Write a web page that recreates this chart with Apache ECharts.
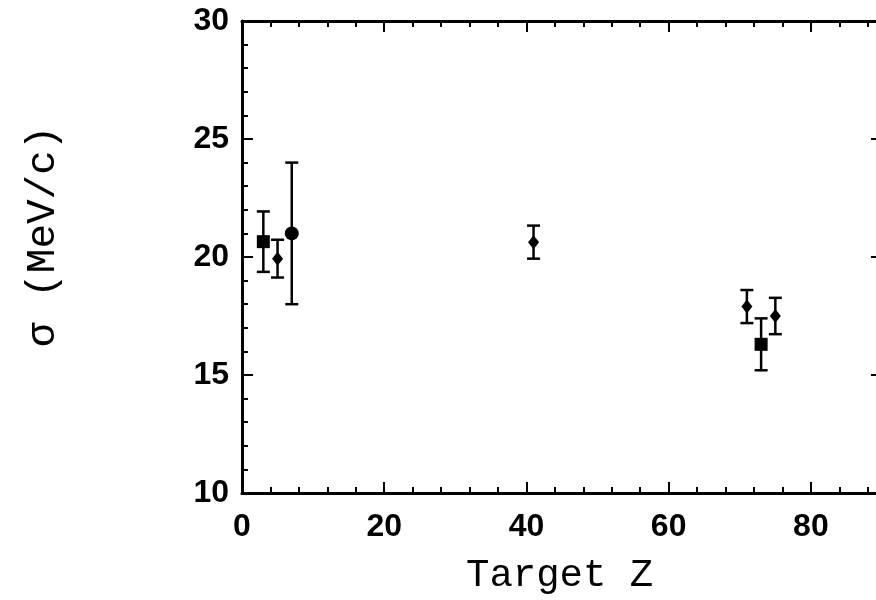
<!DOCTYPE html>
<html>
<head>
<meta charset="utf-8">
<script src="https://cdn.jsdelivr.net/npm/echarts@6/dist/echarts.min.js"></script>
<style>
  html, body { margin: 0; padding: 0; background: #fff; }
  #chart { width: 876px; height: 600px; }
</style>
</head>
<body>
<div id="chart"></div>
<script>
// 数据：sigma vs target Z，三种符号
const squareZ = [3, 73];
const squareSigma = [20.65, 16.3];
const squareErr = [1.28, 1.1];

const diamondZ = [5, 41, 71, 75];
const diamondSigma = [19.93, 20.63, 17.9, 17.5];
const diamondErr = [0.8, 0.7, 0.7, 0.77];

const circleZ = [7];
const circleSigma = [21.0];
const circleErr = [3.0];

const xTicks = [0, 20, 40, 60, 80];
const yTicks = [10, 15, 20, 25, 30];

// 拼成 [z, sigma]
function pts(z, s) {
  return z.map((v, i) => [v, s[i]]);
}
// 误差棒 [z, low, high]
function bars(z, s, e) {
  return z.map((v, i) => [v, s[i] - e[i], s[i] + e[i]]);
}

const allBars = []
  .concat(bars(squareZ, squareSigma, squareErr))
  .concat(bars(diamondZ, diamondSigma, diamondErr))
  .concat(bars(circleZ, circleSigma, circleErr));

const myChart = echarts.init(document.getElementById("chart"));

const tickFont = {
  color: "#000",
  fontFamily: "Liberation Sans",
  fontWeight: "bold",
  fontSize: 32,
};

const axisBase = {
  type: "value",
  axisLine: { show: true, onZero: false, lineStyle: { color: "#000", width: 3 } },
  axisTick: { inside: true, length: 11, lineStyle: { color: "#000", width: 2 } },
  minorTick: { show: true, splitNumber: 5, length: 6, lineStyle: { color: "#000", width: 2 } },
  splitLine: { show: false },
};

const markStyle = { color: "#000", opacity: 1 };

myChart.setOption({
  animation: false,
  // 右边框在画面外（原图被裁掉）
  grid: { left: 242, top: 21, width: 640, height: 472, containLabel: false, outerBoundsMode: "none" },
  xAxis: [
    Object.assign({}, axisBase, {
      min: 0, max: 90, interval: 20, position: "bottom",
      axisLabel: Object.assign({ margin: 18, formatter: (v) => (xTicks.includes(v) ? v : "") }, tickFont),
    }),
    Object.assign({}, axisBase, {
      min: 0, max: 90, interval: 20, position: "top",
      axisLabel: { show: false },
    }),
  ],
  yAxis: [
    Object.assign({}, axisBase, {
      min: 10, max: 30, interval: 5, position: "left",
      axisLabel: Object.assign({ margin: 13, formatter: (v) => (yTicks.includes(v) ? v : "") }, tickFont),
    }),
    Object.assign({}, axisBase, {
      min: 10, max: 30, interval: 5, position: "right",
      axisLabel: { show: false },
    }),
  ],
  graphic: [
    {
      type: "text",
      left: 466, top: 556,
      style: { text: "Target Z", font: "39px 'Liberation Mono'", fill: "#000" },
    },
    {
      type: "text",
      x: 23, y: 347, rotation: Math.PI / 2,
      style: { text: "σ (MeV/c)", font: "41px 'Liberation Mono'", fill: "#000" },
    },
  ],
  series: [
    {
      type: "custom",
      data: allBars,
      renderItem: function (params, api) {
        const lo = api.coord([api.value(0), api.value(1)]);
        const hi = api.coord([api.value(0), api.value(2)]);
        const w = 6.5;
        const st = { stroke: "#000", lineWidth: 2.5 };
        return {
          type: "group",
          children: [
            { type: "line", shape: { x1: lo[0], y1: lo[1], x2: hi[0], y2: hi[1] }, style: st },
            { type: "line", shape: { x1: lo[0] - w, y1: lo[1], x2: lo[0] + w, y2: lo[1] }, style: st },
            { type: "line", shape: { x1: hi[0] - w, y1: hi[1], x2: hi[0] + w, y2: hi[1] }, style: st },
          ],
        };
      },
      z: 2,
    },
    {
      type: "scatter",
      data: pts(squareZ, squareSigma),
      symbol: "rect",
      symbolSize: 13,
      itemStyle: markStyle,
      z: 3,
    },
    {
      type: "scatter",
      data: pts(diamondZ, diamondSigma),
      symbol: "diamond",
      symbolSize: [11, 14],
      itemStyle: markStyle,
      z: 3,
    },
    {
      type: "scatter",
      data: pts(circleZ, circleSigma),
      symbol: "circle",
      symbolSize: 14,
      itemStyle: markStyle,
      z: 3,
    },
  ],
});
</script>
</body>
</html>
